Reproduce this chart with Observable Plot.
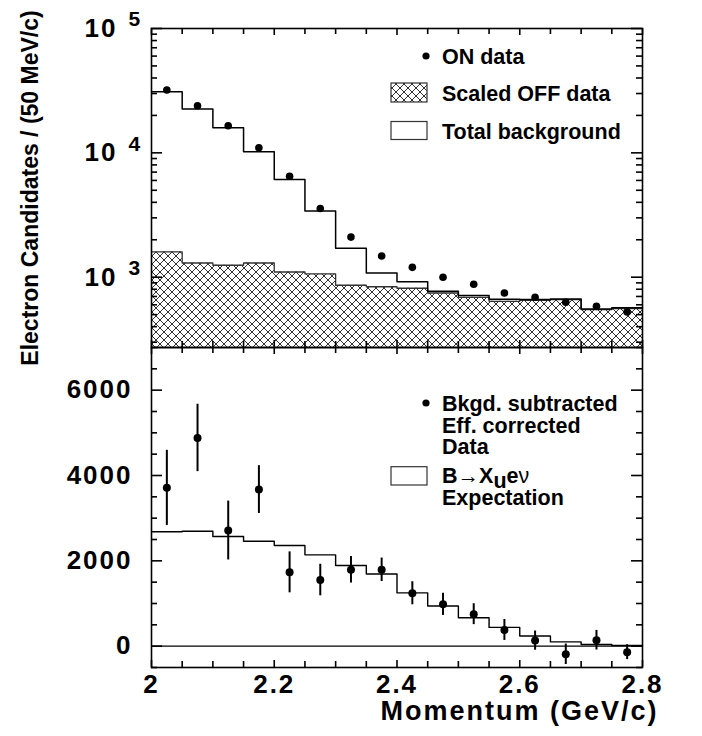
<!DOCTYPE html>
<html><head><meta charset="utf-8">
<script src="https://cdn.jsdelivr.net/npm/d3@7"></script>
<script src="https://cdn.jsdelivr.net/npm/@observablehq/plot@0.6"></script>
<style>
body{margin:0;background:#fff;}
#wrap{position:relative;width:702px;height:736px;overflow:hidden;font-family:"Liberation Sans",Arial,Helvetica,sans-serif;}
#top{position:absolute;left:0;top:0;}
#bot{position:absolute;left:0;top:346px;}
#ytitle{position:absolute;left:0;top:0;}
</style></head><body>
<svg width="0" height="0" style="position:absolute">
<defs><pattern id="hatch" width="8" height="8" patternUnits="userSpaceOnUse">
<path d="M0,0L8,8M8,0L0,8M-1,7L1,9M7,-1L9,1" stroke="#1a1a1a" stroke-width="0.9" fill="none"/></pattern></defs></svg>
<div id="wrap">
<div id="top"></div><div id="bot"></div>
<svg id="ytitle" width="60" height="400"><text transform="translate(38,188) rotate(-90)" text-anchor="middle" font-family="Liberation Sans, Arial, sans-serif" font-weight="bold" font-size="23">Electron Candidates / (50 MeV/c)</text></svg>
</div>
<script>
// ---- data ----
const binCenters = [2.025, 2.075, 2.125, 2.175, 2.225, 2.275, 2.325, 2.375, 2.425, 2.475, 2.525, 2.575, 2.625, 2.675, 2.725, 2.775];
const binWidth = 0.05;
const onData   = [32000, 23900, 16500, 11000, 6490, 3570, 2100, 1480, 1200, 1000, 877, 746, 689, 628, 583, 525];
const totalBkg = [31000, 22500, 15900, 10200, 6110, 3400, 1710, 1080, 918, 770, 711, 664, 662, 668, 555, 568];
const offData  = [1596, 1300, 1247, 1300, 1101, 1062, 861, 838, 815, 746, 689, 640, 652, 660, 549, 558];
const subData  = [3710, 4880, 2710, 3670, 1730, 1550, 1790, 1790, 1240, 980, 750, 380, 130, -190, 140, -140];
const subErr   = [880, 790, 690, 560, 480, 370, 310, 275, 270, 260, 245, 245, 225, 240, 230, 175];
const expectation = [2680, 2695, 2570, 2460, 2360, 2140, 1890, 1690, 1250, 940, 665, 440, 240, 100, 40, 15];

const xMajor = [2, 2.2, 2.4, 2.6, 2.8];
const xMinor = [2.05, 2.1, 2.15, 2.25, 2.3, 2.35, 2.45, 2.5, 2.55, 2.65, 2.7, 2.75];
const logMajor = [1e3, 1e4, 1e5];
const logExp = ["3", "4", "5"];
const logMinor = [300,400,500,600,700,800,900,2000,3000,4000,5000,6000,7000,8000,9000,20000,30000,40000,50000,60000,70000,80000,90000];
const linMajor = [0, 2000, 4000, 6000];
const linMinor = [-500, 500, 1000, 1500, 2500, 3000, 3500, 4500, 5000, 5500, 6500, 7000];
const xDomain = [2, 2.8];
const yLogDomain = [272, 1e5];
const yLinDomain = [-500, 7000];

// ---- helpers ----
const steps = vals => {
  const pts = binCenters.map((c, i) => ({x: c - binWidth / 2, y: vals[i]}));
  pts.push({x: binCenters[binCenters.length - 1] + binWidth / 2, y: vals[vals.length - 1]});
  return pts;
};
const FONT = "Liberation Sans, Arial, sans-serif";
const FW = 491, FH_TOP = 319, FH_BOT = 320; // frame sizes in px
const TICK = {stroke: "#000", strokeWidth: 1.6};
const xPerPx = (xDomain[1] - xDomain[0]) / FW;
// inward ticks on left and right frame edges
const yTicks = (vals, len) => [
  Plot.ruleY(vals, {y: d => d, x1: xDomain[0], x2: xDomain[0] + len * xPerPx, ...TICK}),
  Plot.ruleY(vals, {y: d => d, x1: xDomain[1] - len * xPerPx, x2: xDomain[1], ...TICK})
];
// inward ticks on top and bottom edges, linear panel
const xTicksLin = (vals, len) => {
  const per = (yLinDomain[1] - yLinDomain[0]) / FH_BOT;
  return [
    Plot.ruleX(vals, {x: d => d, y1: yLinDomain[0], y2: yLinDomain[0] + len * per, ...TICK}),
    Plot.ruleX(vals, {x: d => d, y1: yLinDomain[1] - len * per, y2: yLinDomain[1], ...TICK})
  ];
};
// inward ticks on top and bottom edges, log panel
const xTicksLog = (vals, len) => {
  const f = Math.pow(yLogDomain[1] / yLogDomain[0], len / FH_TOP);
  return [
    Plot.ruleX(vals, {x: d => d, y1: yLogDomain[0], y2: yLogDomain[0] * f, ...TICK}),
    Plot.ruleX(vals, {x: d => d, y1: yLogDomain[1] / f, y2: yLogDomain[1], ...TICK})
  ];
};

// ---- top panel ----
const onRows = binCenters.map((c, i) => ({x: c, y: onData[i]}));
const topPlot = Plot.plot({
  width: 702, height: 349, marginTop: 28, marginBottom: 2, marginLeft: 151, marginRight: 60,
  style: {background: "none", overflow: "visible"},
  x: {domain: xDomain, label: null},
  y: {type: "log", domain: yLogDomain, label: null},
  marks: [
    Plot.areaY(steps(offData), {x: "x", y1: yLogDomain[0], y2: "y", curve: "step-after", fill: "url(#hatch)"}),
    Plot.line(steps(offData), {x: "x", y: "y", curve: "step-after", stroke: "#333", strokeWidth: 1.3}),
    Plot.line(steps(totalBkg), {x: "x", y: "y", curve: "step-after", stroke: "#000", strokeWidth: 1.5}),
    Plot.dot(onRows, {x: "x", y: "y", r: 3.8, fill: "#000"}),
    ...yTicks(logMajor, 11), ...yTicks(logMinor, 6),
    ...xTicksLog(xMajor, 7), ...xTicksLog(xMinor, 6),
    Plot.axisX({ticks: [], label: null, tickSize: 0}),
    Plot.axisY({anchor: "left", ticks: logMajor, tickSize: 0, tickPadding: 34, tickFormat: () => "10", label: null, fontSize: 26, fontWeight: "bold", fontFamily: FONT}),
    Plot.text(logMajor, {y: d => d, text: (d, i) => logExp[i], frameAnchor: "left", textAnchor: "start", dx: -23, dy: -9, fontSize: 21, fontWeight: "bold", fontFamily: FONT}),
    Plot.frame({stroke: "#000", strokeWidth: 1.6})
  ]
});
document.getElementById("top").appendChild(topPlot);

// ---- bottom panel ----
const subRows = binCenters.map((c, i) => ({x: c, y: subData[i], e: subErr[i]}));
const botPlot = Plot.plot({
  width: 702, height: 390, marginTop: 1, marginBottom: 69, marginLeft: 151, marginRight: 60,
  style: {background: "none", overflow: "visible"},
  x: {domain: xDomain, label: null},
  y: {domain: yLinDomain, label: null},
  marks: [
    Plot.ruleY([0], {stroke: "#000", strokeWidth: 1.1}),
    Plot.line(steps(expectation), {x: "x", y: "y", curve: "step-after", stroke: "#000", strokeWidth: 1.4}),
    Plot.ruleX(subRows, {x: "x", y1: d => d.y - d.e, y2: d => d.y + d.e, stroke: "#000", strokeWidth: 2}),
    Plot.dot(subRows, {x: "x", y: "y", r: 4, fill: "#000"}),
    ...yTicks(linMajor, 11), ...yTicks(linMinor, 6),
    ...xTicksLin(xMajor, 7), ...xTicksLin(xMinor, 6),
    Plot.axisY({anchor: "left", ticks: linMajor, tickSize: 0, tickPadding: 19, tickFormat: d => String(d), label: null, fontSize: 26, fontWeight: "bold", fontFamily: FONT}),
    Plot.axisX({anchor: "bottom", ticks: xMajor, tickSize: 0, tickPadding: 7, tickFormat: d => String(d), label: null, fontSize: 26, fontWeight: "bold", fontFamily: FONT}),
    Plot.text(["Momentum (GeV/c)"], {frameAnchor: "bottom-right", textAnchor: "end", lineAnchor: "middle", dx: 16, dy: 44, fontSize: 27, fontWeight: "bold", fontFamily: FONT}),
    Plot.frame({stroke: "#000", strokeWidth: 1.6})
  ]
});
document.getElementById("bot").appendChild(botPlot);

// letter spacing on axis labels
[topPlot, botPlot].forEach(svg => {
  d3.select(svg).selectAll('g[aria-label$="tick label"] text').attr("letter-spacing", 2);
});
d3.select(botPlot).selectAll('g[aria-label="text"] text').attr("letter-spacing", 2);

// ---- legends ----
const legendFont = sel => sel.attr("font-family", FONT).attr("font-weight", "bold").attr("font-size", 21.5).attr("fill", "#000").attr("text-anchor", "start");
{
  const g = d3.select(topPlot).append("g").attr("text-anchor", "start");
  g.append("circle").attr("cx", 426).attr("cy", 56).attr("r", 3.6).attr("fill", "#000");
  legendFont(g.append("text").attr("x", 442).attr("y", 63.5).text("ON data"));
  g.append("rect").attr("x", 391).attr("y", 83).attr("width", 36).attr("height", 19).attr("fill", "url(#hatch)").attr("stroke", "#333").attr("stroke-width", 1.2);
  legendFont(g.append("text").attr("x", 442).attr("y", 101).text("Scaled OFF data"));
  g.append("rect").attr("x", 391).attr("y", 121.5).attr("width", 36).attr("height", 18).attr("fill", "none").attr("stroke", "#333").attr("stroke-width", 1.2);
  legendFont(g.append("text").attr("x", 442).attr("y", 138.5).text("Total background"));
}
{
  const g = d3.select(botPlot).append("g").attr("text-anchor", "start");
  g.append("circle").attr("cx", 426).attr("cy", 57).attr("r", 3.6).attr("fill", "#000");
  legendFont(g.append("text").attr("x", 442).attr("y", 65).text("Bkgd. subtracted"));
  legendFont(g.append("text").attr("x", 442).attr("y", 86.5).text("Eff. corrected"));
  legendFont(g.append("text").attr("x", 442).attr("y", 108).text("Data"));
  g.append("rect").attr("x", 391).attr("y", 120.7).attr("width", 36).attr("height", 18.3).attr("fill", "none").attr("stroke", "#333").attr("stroke-width", 1.2);
  const t = legendFont(g.append("text").attr("x", 442).attr("y", 137));
  t.append("tspan").text("B");
  t.append("tspan").attr("font-weight", "normal").text("\u2192");
  t.append("tspan").text("X");
  t.append("tspan").attr("dy", 5).text("u");
  t.append("tspan").attr("dy", -5).text("e");
  t.append("tspan").attr("font-weight", "normal").text("\u03BD");
  legendFont(g.append("text").attr("x", 442).attr("y", 158.5).text("Expectation"));
}
</script>
</body></html>
